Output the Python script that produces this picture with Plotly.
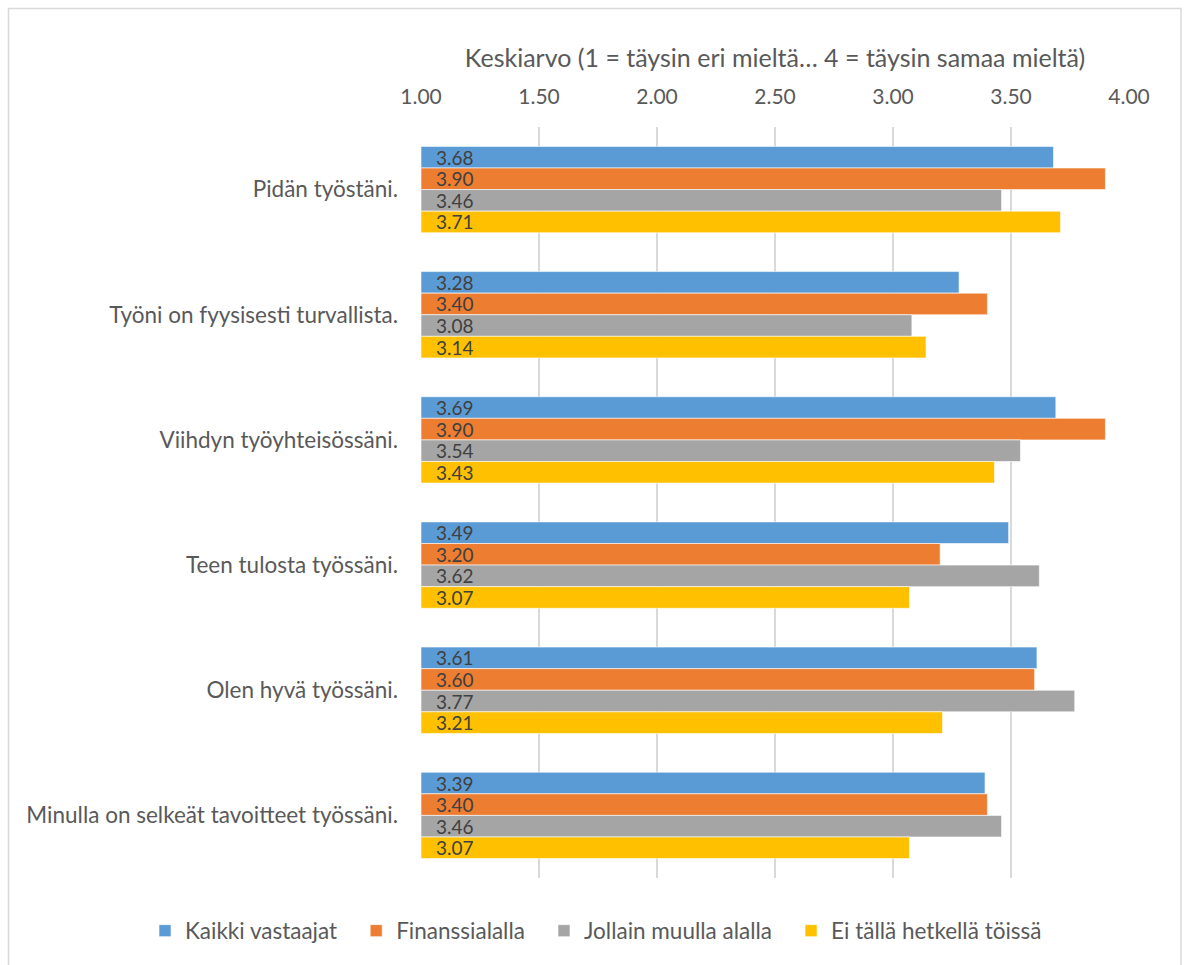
import plotly.graph_objects as go

# Survey statements (top to bottom) and respondent groups
statements = [
    "Pidän työstäni.",
    "Työni on fyysisesti turvallista.",
    "Viihdyn työyhteisössäni.",
    "Teen tulosta työssäni.",
    "Olen hyvä työssäni.",
    "Minulla on selkeät tavoitteet työssäni.",
]

kaikki_vastaajat = [3.68, 3.28, 3.69, 3.49, 3.61, 3.39]
finanssialalla = [3.90, 3.40, 3.90, 3.20, 3.60, 3.40]
jollain_muulla_alalla = [3.46, 3.08, 3.54, 3.62, 3.77, 3.46]
ei_toissa = [3.71, 3.14, 3.43, 3.07, 3.21, 3.07]

series_names = ["Kaikki vastaajat", "Finanssialalla", "Jollain muulla alalla", "Ei tällä hetkellä töissä"]
series_values = [kaikki_vastaajat, finanssialalla, jollain_muulla_alalla, ei_toissa]
colors = ["#5B9BD5", "#ED7D31", "#A5A5A5", "#FFC000"]

x_ticks = [1.0, 1.5, 2.0, 2.5, 3.0, 3.5, 4.0]
axis_min = 1.0

FONT = "Lato"

# plot-area geometry in pixels
L, R, T, B = 421, 57, 127, 87
W, H = 1186, 965
PW, PH = W - L - R, H - T - B


def px_x(px):
    return (px - L) / PW


def px_y(py):
    return (H - B - py) / PH


fig = go.Figure()
for name, vals, col in zip(series_names, series_values, colors):
    fig.add_trace(go.Bar(
        name=name + "\u2002\u2009",
        y=statements,
        x=[v - axis_min for v in vals],
        base=axis_min,
        orientation="h",
        marker=dict(color=col, line=dict(color="white", width=0.6)),
        text=["\u2002\u2009" + f"{v:.2f}" for v in vals],
        textposition="inside",
        insidetextanchor="start",
        constraintext="none",
        textfont=dict(family=FONT, size=19, color="#404040"),
        hovertemplate=name + ": %{text}<extra></extra>",
        cliponaxis=False,
    ))

fig.update_layout(
    width=W,
    height=H,
    margin=dict(l=L, r=R, t=T, b=B),
    paper_bgcolor="white",
    plot_bgcolor="white",
    barmode="group",
    bargap=0.31,
    bargroupgap=0,
    font=dict(family=FONT, color="#595959"),
    showlegend=True,
    legend=dict(
        orientation="h",
        xref="paper", yref="paper",
        x=px_x(145), y=px_y(931),
        xanchor="left", yanchor="middle",
        font=dict(family=FONT, size=22.5, color="#595959"),
        itemwidth=30,
        traceorder="normal",
        bgcolor="rgba(0,0,0,0)",
    ),
    xaxis=dict(
        side="top",
        range=[1.0, 4.0],
        tickvals=x_ticks,
        ticktext=[f"{t:.2f}" for t in x_ticks],
        tickfont=dict(family=FONT, size=21, color="#595959"),
        ticklabelstandoff=18,
        showgrid=True,
        gridcolor="#D9D9D9",
        gridwidth=1.5,
        zeroline=False,
        showline=False,
        title=dict(
            text="Keskiarvo (1 = täysin eri mieltä… 4 = täysin samaa mieltä)",
            font=dict(family=FONT, size=25, color="#595959"),
            standoff=8,
        ),
    ),
    yaxis=dict(
        autorange="reversed",
        tickfont=dict(family=FONT, size=22.5, color="#595959"),
        ticklabelstandoff=22,
        showgrid=False,
        zeroline=False,
        showline=False,
    ),
    shapes=[dict(
        type="rect", xref="paper", yref="paper",
        x0=px_x(8.5), x1=px_x(1181),
        y0=px_y(980), y1=px_y(8.5),
        line=dict(color="#D9D9D9", width=1.5),
        fillcolor="rgba(0,0,0,0)",
        layer="below",
    )],
)

fig.write_html("out.html")
